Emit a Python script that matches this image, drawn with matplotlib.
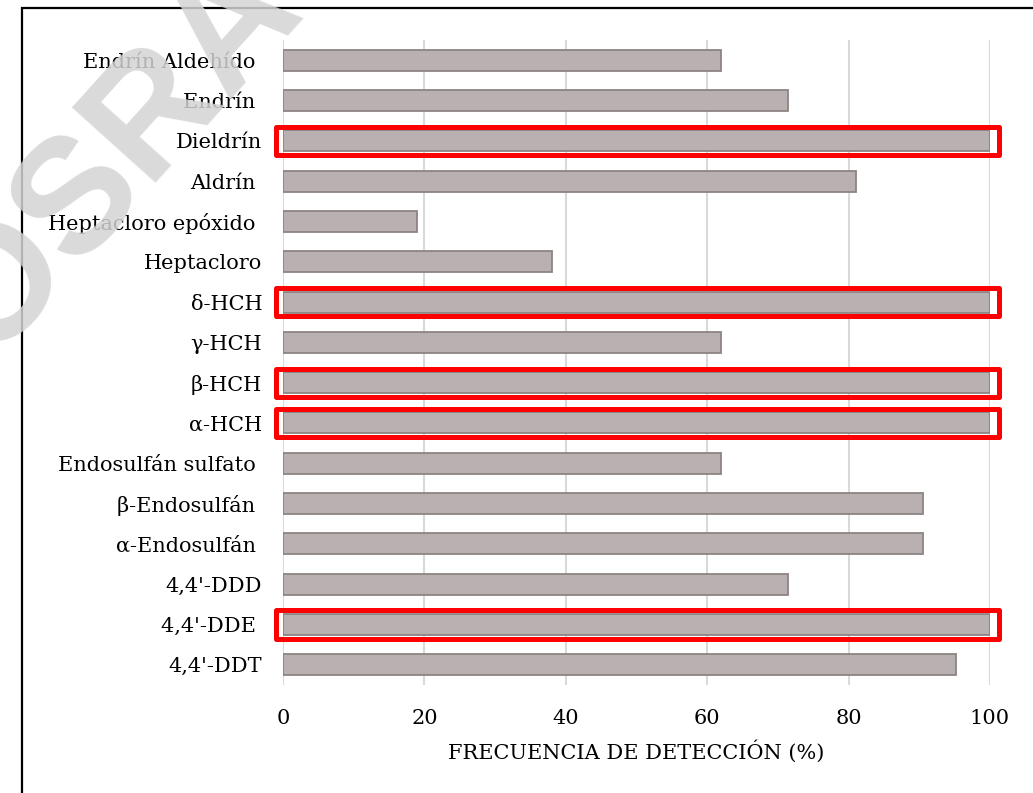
import numpy as np
import matplotlib
matplotlib.use('Agg')
import matplotlib.pyplot as plt
from matplotlib.patches import Rectangle

# ===== Data (bottom -> top) =====
labels = ["4,4'-DDT", "4,4'-DDE ", "4,4'-DDD", "α-Endosulfán ", "β-Endosulfán ",
          "Endosulfán sulfato ", "α-HCH", "β-HCH", "γ-HCH", "δ-HCH", "Heptacloro",
          "Heptacloro epóxido ", "Aldrín ", "Dieldrín", "Endrín ", "Endrín Aldehído "]
freq = [95.2, 100.0, 71.4, 90.5, 90.5, 61.9, 100.0, 100.0, 61.9, 100.0, 38.1,
        19.0, 81.0, 100.0, 71.4, 61.9]
highlight = ["4,4'-DDE ", "α-HCH", "β-HCH", "δ-HCH", "Dieldrín"]

W, H = 1033, 793
plt.rcParams['font.family'] = ['DejaVu Serif']
fig = plt.figure(figsize=(W/100, H/100), dpi=100)
ax = fig.add_axes([283/W, 1-685/H, (990-283)/W, (685-40)/H])

y = np.arange(len(labels))
ax.barh(y, freq, height=0.52, color='#b9b1b1', edgecolor='#8e8383', lw=1.3, zorder=3)
ax.set_xlim(0, 100); ax.set_ylim(-0.5, len(labels)-0.5)
ax.set_xticks(np.arange(0, 101, 20))
ax.set_yticks(y); ax.set_yticklabels(labels)
ax.tick_params(length=0, labelsize=15)
ax.tick_params(axis='x', pad=17)
ax.tick_params(axis='y', pad=15)
ax.grid(axis='x', color='#d9d9d9', lw=1.5, zorder=0)
for s in ax.spines.values(): s.set_visible(False)
ax.set_xlabel("FRECUENCIA DE DETECCIÓN (%)", fontsize=15, labelpad=9)

# red highlight boxes
for i, name in enumerate(labels):
    if name in highlight:
        ax.add_patch(Rectangle((-1.06, i-0.35), 102.4, 0.70, fill=False, ec='#ff0000',
                               lw=3.6, joinstyle='round', clip_on=False, zorder=5))

# outer frame (cut off at right and bottom)
fig.add_artist(Rectangle((22/W, -0.05), 1.1, 1-8/H+0.05, fill=False, ec='black', lw=1.6,
                         transform=fig.transFigure))

# watermark
fig.text(167/W, 1-100/H, "OSRA-L", fontsize=118, fontweight='bold', family='Liberation Sans',
         color='#d4d4d4', alpha=0.85, rotation=48, rotation_mode='anchor',
         ha='center', va='center', zorder=10)

fig.savefig('out.png', dpi=100)
